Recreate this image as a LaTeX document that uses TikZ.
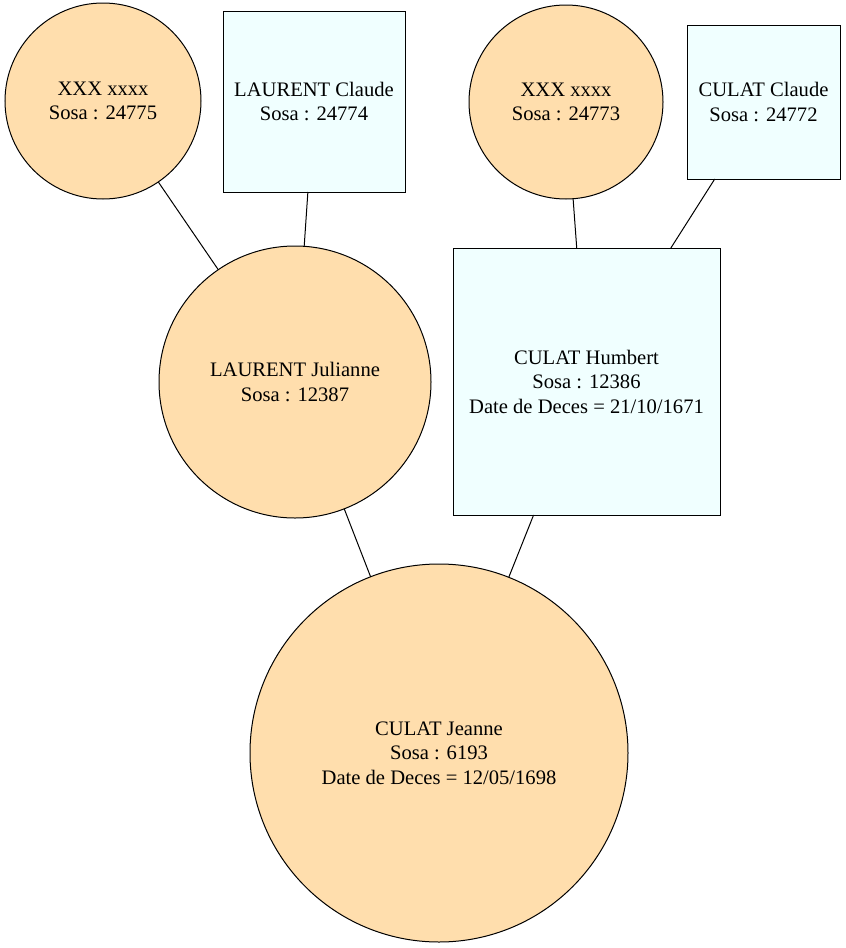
\documentclass[tikz,border=0pt]{standalone}
\usepackage{fontspec}
\setmainfont{Liberation Serif}
\definecolor{navajo}{RGB}{255,222,173}
\definecolor{azurefill}{RGB}{240,255,255}
\begin{document}
\begin{tikzpicture}[x=1pt,y=-1pt,
  every node/.style={font=\fontsize{20.6}{24.5}\selectfont, align=center, inner sep=0pt, outer sep=0pt},
  woman/.style={circle, draw=black, line width=1pt, fill=navajo},
  man/.style={rectangle, draw=black, line width=1pt, fill=azurefill},
  link/.style={draw=black, line width=1pt}]
\useasboundingbox (0,0) rectangle (846,948);
% ancestors, top row
\node[woman, minimum size=196pt] (p24775) at (103,101) {XXX xxxx\\Sosa : 24775};
\node[man, minimum width=182pt, minimum height=181pt] (p24774) at (314,101.5) {LAURENT Claude\\Sosa : 24774};
\node[woman, minimum size=194pt] (p24773) at (566,102) {XXX xxxx\\Sosa : 24773};
\node[man, minimum width=153pt, minimum height=154pt] (p24772) at (763.5,102) {CULAT Claude\\Sosa : 24772};
% parents
\node[woman, minimum size=272pt] (p12387) at (295,382) {LAURENT Julianne\\Sosa : 12387};
\node[man, minimum width=267pt, minimum height=267pt] (p12386) at (586.5,381.5) {CULAT Humbert\\Sosa : 12386\\Date de Deces = 21/10/1671};
% root person
\node[woman, minimum size=378pt] (p6193) at (439,753) {CULAT Jeanne\\Sosa : 6193\\Date de Deces = 12/05/1698};
% family links
\draw[link] (p24775) -- (p12387);
\draw[link] (p24774) -- (p12387);
\draw[link] (p24773) -- (p12386);
\draw[link] (p24772) -- (p12386);
\draw[link] (p12387) -- (p6193);
\draw[link] (p12386) -- (p6193);
\end{tikzpicture}
\end{document}
